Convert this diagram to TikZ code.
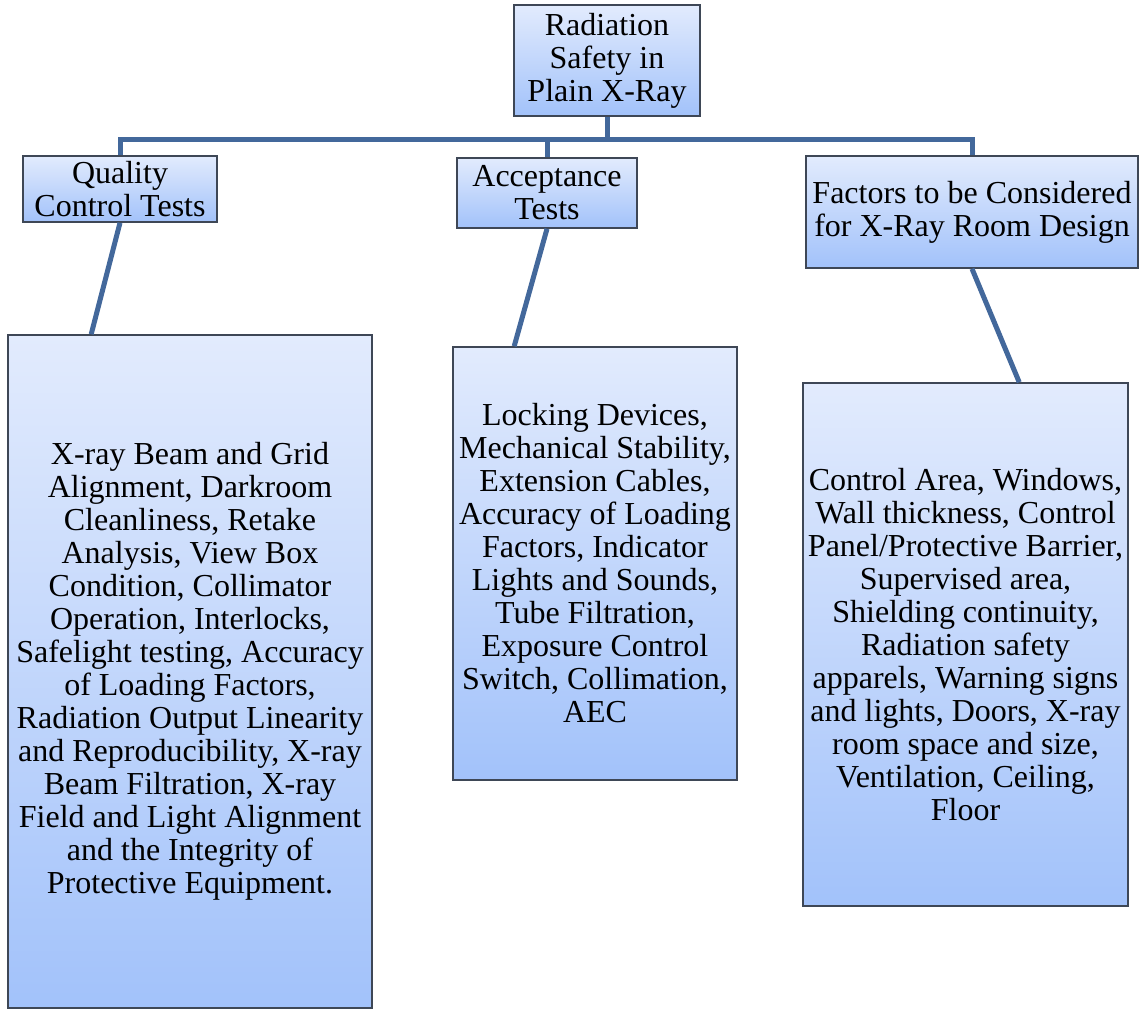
\documentclass[tikz,border=0pt]{standalone}
\usepackage{fontspec}
\setmainfont{Liberation Serif}
\usetikzlibrary{calc}
\definecolor{boxtop}{HTML}{E2EBFD}
\definecolor{boxbot}{HTML}{A2C2FA}
\definecolor{boxline}{HTML}{3E4756}
\definecolor{conn}{HTML}{43689B}
\tikzset{
  box/.style={draw=boxline, line width=1.6pt, top color=boxtop, bottom color=boxbot,
    rectangle, inner sep=0pt, align=center, font=\fontsize{32}{33}\selectfont},
  link/.style={draw=conn, line width=5pt},
}
\begin{document}
\begin{tikzpicture}[x=1pt,y=-1pt]
\useasboundingbox (0,0) rectangle (1140,1010);
\node[box, minimum width=186pt, minimum height=111pt] (root) at (607,60.5) {Radiation\\Safety in\\Plain X-Ray};
\node[box, minimum width=194pt, minimum height=66pt] (qc) at (120,189) {Quality\\Control Tests};
\node[box, minimum width=180pt, minimum height=70pt] (acc) at (547,193) {Acceptance\\Tests};
\node[box, minimum width=332pt, minimum height=112pt] (fac) at (972,212) {Factors to be Considered\\for X-Ray Room Design};
\node[box, minimum width=364pt, minimum height=673pt] (qcd) at (190,671.5) {X-ray Beam and Grid\\Alignment, Darkroom\\Cleanliness, Retake\\Analysis, View Box\\Condition, Collimator\\Operation, Interlocks,\\Safelight testing, Accuracy\\of Loading Factors,\\Radiation Output Linearity\\and Reproducibility, X-ray\\Beam Filtration, X-ray\\Field and Light Alignment\\and the Integrity of\\Protective Equipment.};
\node[box, minimum width=284pt, minimum height=433pt] (accd) at (595,563.5) {Locking Devices,\\Mechanical Stability,\\Extension Cables,\\Accuracy of Loading\\Factors, Indicator\\Lights and Sounds,\\Tube Filtration,\\Exposure Control\\Switch, Collimation,\\AEC};
\node[box, minimum width=325pt, minimum height=523pt] (facd) at (965.5,644.5) {Control Area, Windows,\\Wall thickness, Control\\Panel/Protective Barrier,\\Supervised area,\\Shielding continuity,\\Radiation safety\\apparels, Warning signs\\and lights, Doors, X-ray\\room space and size,\\Ventilation, Ceiling,\\Floor};
\coordinate (bar) at (607,139);
\draw[link] (root.south) -- (bar);
\draw[link] (bar) -| (qc.north);
\draw[link] (bar) -| (fac.north);
\draw[link] (bar -| acc.north) -- (acc.north);
\draw[link] (qc.south) -- ($(qcd.north west)+(84,0)$);
\draw[link] (acc.south) -- ($(accd.north west)+(62,0)$);
\draw[link] (fac.south) -- ($(facd.north west)+(217,0)$);
\end{tikzpicture}
\end{document}
